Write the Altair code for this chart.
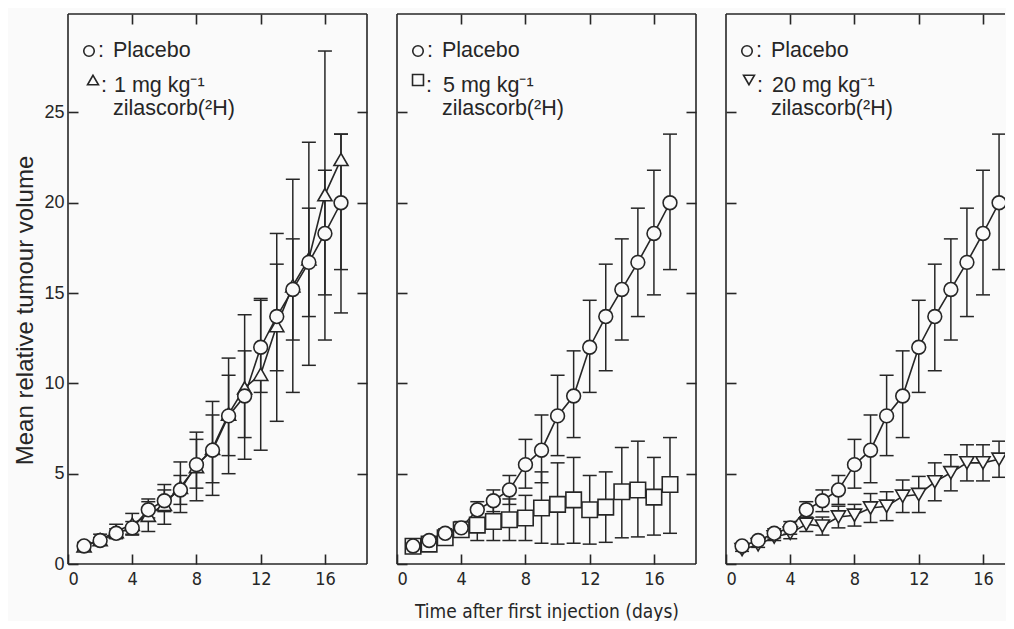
import altair as alt
import pandas as pd

# ---------------- data ----------------
days = list(range(1, 18))

placebo_mean = [1.0, 1.3, 1.7, 2.0, 3.0, 3.5, 4.1, 5.5, 6.3, 8.2, 9.3, 12.0, 13.7, 15.2, 16.7, 18.3, 20.0]
placebo_lo = [0.9, 1.15, 1.45, 1.65, 2.55, 2.9, 3.3, 4.2, 4.5, 6.0, 7.0, 9.5, 10.7, 12.4, 13.7, 14.9, 16.3]
placebo_hi = [1.1, 1.45, 1.95, 2.35, 3.45, 4.1, 4.9, 6.9, 8.25, 10.45, 11.8, 14.6, 16.6, 18.0, 19.7, 21.8, 23.8]

dose1_mean = [1.0, 1.35, 1.8, 2.2, 2.7, 3.3, 4.25, 5.4, 6.4, 8.3, 9.75, 10.5, 13.2, 15.4, 16.9, 20.45, 22.4]
dose1_lo = [0.8, 1.05, 1.4, 1.6, 1.8, 2.2, 2.85, 3.5, 3.8, 5.0, 5.8, 6.3, 7.9, 9.5, 11.0, 12.4, 13.9]
dose1_hi = [1.2, 1.65, 2.2, 2.8, 3.6, 4.4, 5.65, 7.3, 9.0, 11.4, 13.8, 14.7, 18.3, 21.3, 23.35, 28.4, 23.8]

dose5_mean = [0.98, 1.1, 1.45, 1.9, 2.15, 2.35, 2.45, 2.55, 3.1, 3.3, 3.55, 3.0, 3.15, 4.0, 4.1, 3.7, 4.4]
dose5_lo = [0.9, 0.95, 1.2, 1.5, 1.3, 1.3, 1.3, 1.3, 1.15, 1.1, 1.15, 1.1, 1.2, 1.45, 1.5, 1.6, 1.7]
dose5_hi = [1.06, 1.25, 1.7, 2.3, 3.0, 3.4, 3.6, 3.8, 5.1, 5.6, 5.9, 4.9, 5.1, 6.45, 6.8, 5.9, 7.0]

dose20_mean = [0.8, 1.07, 1.5, 1.7, 2.2, 2.1, 2.6, 2.7, 3.1, 3.2, 3.75, 3.85, 4.55, 5.05, 5.6, 5.6, 5.8]
dose20_lo = [0.7, 0.92, 1.3, 1.4, 1.8, 1.6, 2.0, 2.1, 2.3, 2.4, 2.85, 2.85, 3.5, 4.05, 4.6, 4.6, 4.8]
dose20_hi = [0.9, 1.22, 1.7, 2.0, 2.6, 2.6, 3.2, 3.3, 3.9, 4.0, 4.65, 4.85, 5.6, 6.05, 6.6, 6.6, 6.8]

x_ticks = [0, 4, 8, 12, 16]
y_ticks = [0, 5, 10, 15, 20, 25]

placebo_label = "Placebo"
dose_labels = ["1 mg kg\u207b\u00b9", "5 mg kg\u207b\u00b9", "20 mg kg\u207b\u00b9"]
drug_label = "zilascorb(\u00b2H)"
x_title = "Time after first injection (days)"
y_title = "Mean relative tumour volume"

# ---------------- style ----------------
INK = "#262626"
BG = "#fafafa"
FONT = "Liberation Sans"
NARROW = "'DejaVu Sans Condensed', 'Liberation Sans', sans-serif"
H = 550
YMAX = 30.45
W_FULL, XMAX_FULL = 299, 18.62
W_LAST, XMAX_LAST = 279, 17.37


def frame(w, h, right=True):
    one = alt.Data(values=[{}])
    base = alt.Chart(one).mark_rule(color=INK, strokeWidth=1.6)
    parts = [
        base.encode(x=alt.value(0), y=alt.value(0), y2=alt.value(h)),
        base.encode(x=alt.value(0), x2=alt.value(w), y=alt.value(0)),
        base.encode(x=alt.value(0), x2=alt.value(w), y=alt.value(h)),
    ]
    if right:
        parts.append(base.encode(x=alt.value(w), y=alt.value(0), y2=alt.value(h)))
    return parts


def legend(sym_shape, sym_x, dose_label):
    one = alt.Data(values=[{}])
    c = alt.Chart(one)

    def txt(t, x, y):
        return c.mark_text(text=t, font=FONT, fontSize=21.5, color=INK, align="left",
                           baseline="alphabetic").encode(x=alt.value(x), y=alt.value(y))

    return [
        c.mark_point(shape="circle", size=110, filled=True, fill=BG, stroke=INK, strokeWidth=1.6, opacity=1)
        .encode(x=alt.value(21), y=alt.value(37)),
        c.mark_point(shape=sym_shape, size=120, filled=True, fill=BG, stroke=INK, strokeWidth=1.6, opacity=1)
        .encode(x=alt.value(sym_x), y=alt.value(66)),
        txt(":", 30, 43),
        txt(":", sym_x + 8, 78),
        txt(placebo_label, 45, 43),
        txt(dose_label, 46, 78),
        txt(drug_label, 45, 101),
    ]


def panel(t_mean, t_lo, t_hi, shape, size, sym_x, dose_label, width, xmax, first, middle, last):
    pdf = pd.DataFrame({"day": days, "mean": placebo_mean, "lo": placebo_lo, "hi": placebo_hi})
    tdf = pd.DataFrame({"day": days, "mean": t_mean, "lo": t_lo, "hi": t_hi})
    xs = alt.Scale(domain=[0, xmax], nice=False, zero=False)
    ys = alt.Scale(domain=[0, YMAX], nice=False, zero=False)

    tick_common = dict(tickSize=10, offset=-10, domain=False, grid=False,
                       tickColor=INK, tickWidth=1.6)
    ax_bottom = alt.Axis(orient="bottom", values=x_ticks, labelFont=NARROW, labelFontSize=18,
                         labelColor=INK, labelPadding=6, titleFont=NARROW, titleFontSize=19,
                         titleFontWeight="normal", titleColor=INK, titlePadding=14, **tick_common)
    ax_left = alt.Axis(orient="left", values=y_ticks, labels=first, labelFont=FONT, labelFontSize=18,
                       labelColor=INK, labelPadding=4, titleFont=FONT, titleFontSize=24,
                       titleFontWeight="normal", titleColor=INK, titlePadding=6, titleY=296,
                       **tick_common)
    ax_top = alt.Axis(orient="top", values=x_ticks[1:], labels=False, **tick_common)
    ax_right = alt.Axis(orient="right", values=y_ticks[1:], labels=False, **tick_common)

    def X(axis=None):
        if axis is None:
            return alt.X("day:Q", scale=xs, axis=None)
        return alt.X("day:Q", scale=xs, axis=axis, title=(x_title if middle else None))

    layers = []
    # error bars
    for i, df in enumerate([tdf, pdf]):
        c = alt.Chart(df)
        if i == 1:
            layers.append(c.mark_rule(color=INK, strokeWidth=1.5, clip=True).encode(
                x=X(ax_bottom),
                y=alt.Y("lo:Q", scale=ys, axis=ax_left, title=(y_title if first else None)),
                y2="hi:Q"))
        else:
            layers.append(c.mark_rule(color=INK, strokeWidth=1.5, clip=True).encode(
                x=X(), y=alt.Y("lo:Q", scale=ys, axis=None), y2="hi:Q"))
        for fld in ["lo", "hi"]:
            layers.append(c.mark_tick(orient="horizontal", size=14, thickness=1.5, color=INK,
                                      opacity=1, clip=True).encode(
                x=X(), y=alt.Y(f"{fld}:Q", scale=ys, axis=None)))
    # connecting lines
    for df in [tdf, pdf]:
        layers.append(alt.Chart(df).mark_line(color=INK, strokeWidth=1.6, clip=True).encode(
            x=X(), y=alt.Y("mean:Q", scale=ys, axis=None)))
    # markers
    layers.append(alt.Chart(tdf).mark_point(shape=shape, size=size, filled=True, fill=BG, stroke=INK,
                                            strokeWidth=1.6, opacity=1, clip=True).encode(
        x=X(), y=alt.Y("mean:Q", scale=ys, axis=None)))
    layers.append(alt.Chart(pdf).mark_point(shape="circle", size=190, filled=True, fill=BG, stroke=INK,
                                            strokeWidth=1.6, opacity=1, clip=True).encode(
        x=alt.X("day:Q", scale=xs, axis=ax_top, title=None),
        y=alt.Y("mean:Q", scale=ys, axis=(ax_right if not last else None), title=None)))
    layers += frame(width, H, right=not last)
    layers += legend(shape, sym_x, dose_label)
    return alt.layer(*layers).resolve_axis(x="independent", y="independent").properties(
        width=width, height=H, view=alt.ViewBackground(stroke=None))


p1 = panel(dose1_mean, dose1_lo, dose1_hi, "triangle-up", 200, 25, dose_labels[0],
           W_FULL, XMAX_FULL, True, False, False)
p2 = panel(dose5_mean, dose5_lo, dose5_hi, "square", 240, 21, dose_labels[1],
           W_FULL, XMAX_FULL, False, True, False)
p3 = panel(dose20_mean, dose20_lo, dose20_hi, "triangle-down", 200, 23, dose_labels[2],
           W_LAST, XMAX_LAST, False, False, True)

chart = alt.hconcat(p1, p2, p3, spacing=28).properties(
    padding={"left": 5, "top": 5, "right": 0, "bottom": 0}
).configure(background=BG, font=FONT).configure_view(stroke=None)

chart.save("out.html", embed_options={"renderer": "svg", "actions": False})
